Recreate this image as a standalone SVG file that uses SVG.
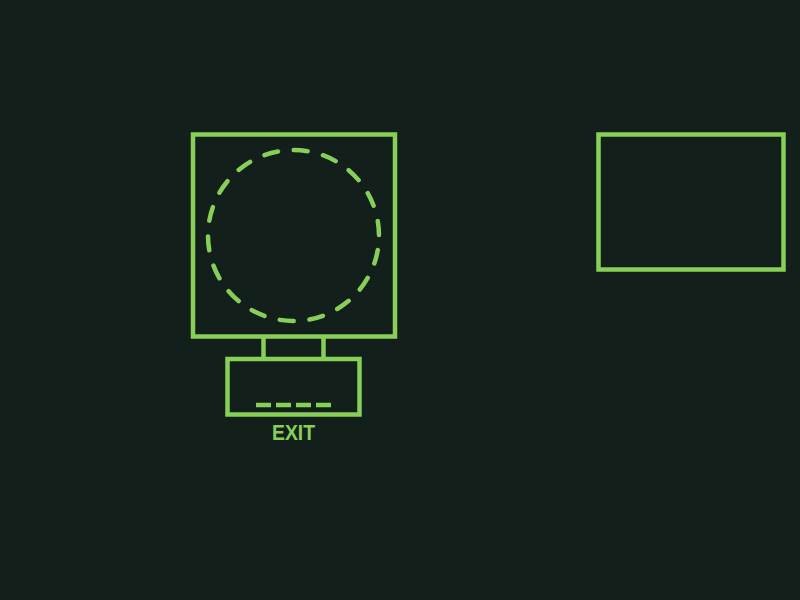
<svg xmlns="http://www.w3.org/2000/svg" width="800" height="600" viewBox="0 0 800 600">
<style>
.s{fill:none;stroke:#88cf58;stroke-width:4.5}
.t{fill:#88cf58;font-family:"Liberation Sans","DejaVu Sans",sans-serif;font-size:22px;font-weight:bold;text-anchor:middle}
</style>
<rect width="800" height="600" fill="#121f1a"/>
<g id="unit">
<rect class="s" x="193" y="134.5" width="202" height="202"/>
<circle cx="293.5" cy="235.5" r="85.5" fill="none" stroke="#88cf58" stroke-width="4.5" stroke-dasharray="14 15.84" stroke-dashoffset="15.3" stroke-linecap="round"/>
</g>
<g id="connectors">
<line class="s" x1="263.5" y1="337" x2="263.5" y2="359"/>
<line class="s" x1="323.5" y1="337" x2="323.5" y2="359"/>
</g>
<g id="exit">
<rect class="s" x="227.5" y="359" width="132" height="55.5"/>
<line x1="256" y1="405" x2="331" y2="405" stroke="#88cf58" stroke-width="4.5" stroke-dasharray="15 5"/>
<text class="t" x="293.5" y="440" textLength="43" lengthAdjust="spacingAndGlyphs">EXIT</text>
</g>
<g id="panel">
<rect class="s" x="598.5" y="134.5" width="185" height="135"/>
</g>
</svg>
